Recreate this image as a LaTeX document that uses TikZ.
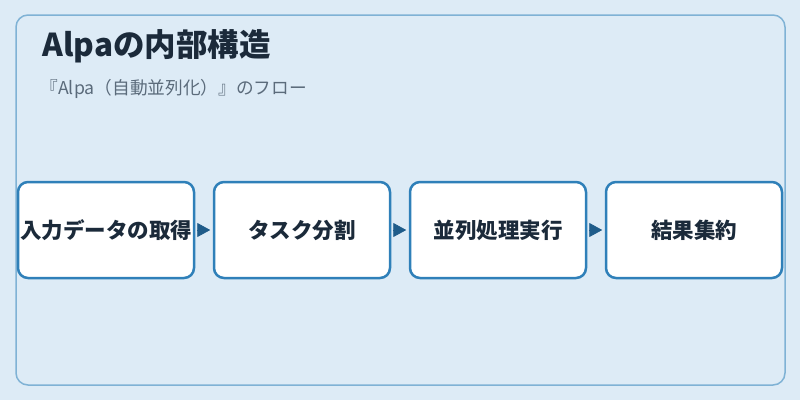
\documentclass[tikz,border=0pt]{standalone}
\usepackage{fontspec}
\setmainfont{Noto Sans CJK JP}
\usepackage{tikz}
\usetikzlibrary{arrows.meta}
\definecolor{pagebg}{HTML}{DDEBF6}
\definecolor{panelline}{HTML}{7FB2D5}
\definecolor{boxline}{HTML}{2F80B9}
\definecolor{flowblue}{HTML}{1F5C8A}
\definecolor{titletext}{HTML}{1B2A3A}
\definecolor{subtext}{HTML}{5B6B7B}
\tikzset{
   panel/.style={draw=panelline, line width=1.5pt, rounded corners=12pt, fill=pagebg},
   stage/.style={draw=boxline, line width=2.5pt, rounded corners=10pt, fill=white,
      minimum width=176pt, minimum height=96pt, inner sep=0pt,
      text=titletext, font=\fontsize{21.5}{25}\selectfont\bfseries},
   flow/.style={draw=flowblue, line width=0.8pt, shorten <=1.5pt, shorten >=2.5pt,
      -{Triangle[length=13pt,width=14pt]}},
    }
\begin{document}
\begin{tikzpicture}[x=1pt,y=-1pt]
            \fill[pagebg] (0,0) rectangle (800,400);
            \useasboundingbox (0,0) rectangle (800,400);
            \draw[panel] (16,15) rectangle (785,385);
            \node[anchor=west, text=titletext, font=\fontsize{31.5}{36}\selectfont\bfseries] (title) at (39,46) {Alpaの内部構造};
            \node[anchor=west, text=subtext, font=\fontsize{17.7}{21}\selectfont] (subtitle) at (37,89) {『Alpa（自動並列化）』のフロー};
            \node[stage] (fetch) at (106,230) {入力データの取得};
            \node[stage] (split) at (302,230) {タスク分割};
            \node[stage] (run) at (498,230) {並列処理実行};
            \node[stage] (merge) at (694,230) {結果集約};
            \draw[flow] (fetch) -- (split);
            \draw[flow] (split) -- (run);
            \draw[flow] (run) -- (merge);
        \end{tikzpicture}
\end{document}
